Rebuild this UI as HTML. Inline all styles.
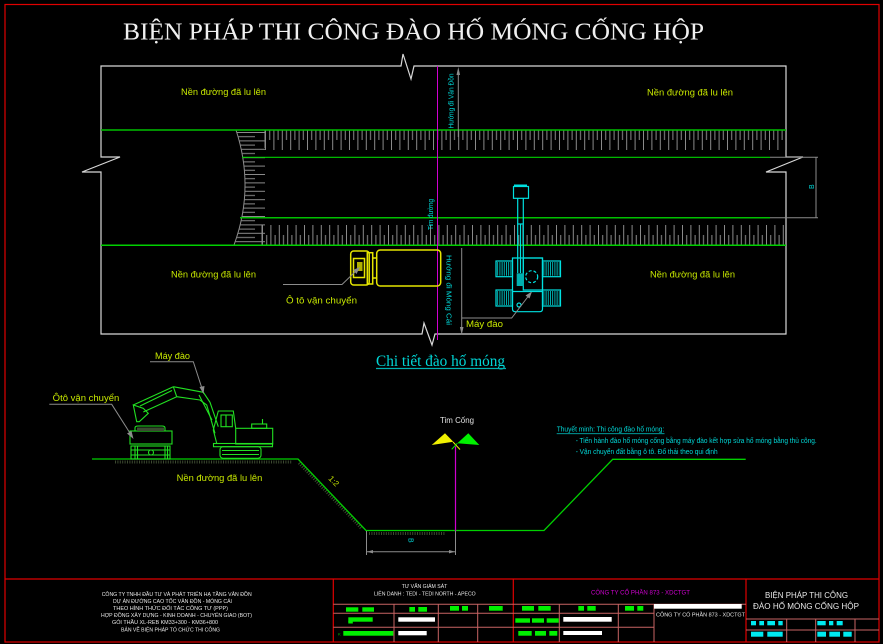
<!DOCTYPE html>
<html><head><meta charset="utf-8"><style>
html,body{margin:0;padding:0;background:#000;}
svg{display:block;}
text{font-family:"Liberation Sans",sans-serif;}
</style></head><body>
<svg width="883" height="644" viewBox="0 0 883 644" xmlns="http://www.w3.org/2000/svg">
<defs>
<pattern id="tt" x="265" y="130" width="8.4" height="20" patternUnits="userSpaceOnUse">
 <line x1="0.5" y1="0" x2="0.5" y2="20" stroke="#8c8c8c" stroke-width="1"/>
 <line x1="4.7" y1="0" x2="4.7" y2="10" stroke="#8c8c8c" stroke-width="1"/>
</pattern>
<pattern id="bt" x="262" y="225" width="8.4" height="20" patternUnits="userSpaceOnUse">
 <line x1="0.5" y1="0" x2="0.5" y2="20" stroke="#8c8c8c" stroke-width="1"/>
 <line x1="4.7" y1="10" x2="4.7" y2="20" stroke="#8c8c8c" stroke-width="1"/>
</pattern>
<pattern id="lh" x="225" y="132" width="60" height="8.4" patternUnits="userSpaceOnUse">
 <line x1="0" y1="0.5" x2="40" y2="0.5" stroke="#8c8c8c" stroke-width="1"/>
 <line x1="0" y1="4.7" x2="30" y2="4.7" stroke="#8c8c8c" stroke-width="1"/>
</pattern>
<pattern id="trk" x="0" y="0" width="2.2" height="10" patternUnits="userSpaceOnUse">
 <line x1="0.5" y1="0" x2="0.5" y2="10" stroke="#00d8d8" stroke-width="0.8"/>
</pattern>
<clipPath id="cc"><path d="M236,130 Q255,188 234,245 L300,245 L300,130 Z"/></clipPath>
</defs>

<!-- outer frame -->
<rect x="5" y="4.5" width="874" height="637.5" fill="none" stroke="#e00000" stroke-width="1.2"/>

<!-- title -->
<text x="123" y="39.5" font-family="Liberation Serif, serif" font-size="24" fill="#f0f0f0" textLength="581" lengthAdjust="spacingAndGlyphs" style="font-family:'Liberation Serif',serif">BIỆN PHÁP THI CÔNG ĐÀO HỐ MÓNG CỐNG HỘP</text>

<!-- plan view frame -->
<path d="M101,66 H401 L403,54 L411,79 L414,66 H786 V157 H803 L766,172 H786 V334 H435 L432,345 L424,323 L422,334 H101 V172 H82 L120,157 H101 Z" fill="none" stroke="#d8d8d8" stroke-width="1.2"/>

<!-- hatching -->
<rect x="265" y="130" width="521" height="20" fill="url(#tt)"/>
<rect x="262" y="225" width="524" height="20" fill="url(#bt)"/>
<rect x="225" y="132" width="45" height="112" fill="url(#lh)" clip-path="url(#cc)"/>
<path d="M236,130 Q255,188 234,245" fill="none" stroke="#8c8c8c" stroke-width="1"/>
<line x1="265" y1="130" x2="265" y2="148" stroke="#8c8c8c"/>
<line x1="262" y1="225" x2="262" y2="245" stroke="#8c8c8c"/>

<!-- green road lines -->
<line x1="101" y1="130" x2="786" y2="130" stroke="#00c000" stroke-width="1.5"/>
<line x1="242" y1="157.3" x2="770" y2="157.3" stroke="#00d000" stroke-width="1.2"/>
<line x1="240" y1="217.7" x2="770" y2="217.7" stroke="#00c000" stroke-width="1.5"/>
<line x1="101" y1="245.3" x2="786" y2="245.3" stroke="#00d000" stroke-width="1.5"/>

<!-- dimension B -->
<line x1="770" y1="157.3" x2="818" y2="157.3" stroke="#8c8c8c"/>
<line x1="770" y1="217.7" x2="818" y2="217.7" stroke="#8c8c8c"/>
<line x1="816" y1="157.3" x2="816" y2="218" stroke="#8c8c8c"/>
<text transform="translate(814,189) rotate(-90)" font-size="7" fill="#00d8d8">B</text>

<!-- tim duong magenta -->
<line x1="437.5" y1="66" x2="437.5" y2="340" stroke="#d000d0" stroke-width="1"/>
<text transform="translate(433,230) rotate(-90)" font-size="7" fill="#00d8d8" textLength="31" lengthAdjust="spacingAndGlyphs">Tim đường</text>

<!-- direction arrows -->
<line x1="458.3" y1="137" x2="458.3" y2="70" stroke="#8c8c8c"/>
<polygon points="458.3,67 456.5,75 460.1,75" fill="#8c8c8c"/>
<text transform="translate(453.5,128.5) rotate(-90)" font-size="7.5" fill="#00d8d8" textLength="55" lengthAdjust="spacingAndGlyphs">Hướng đi Vân Đồn</text>

<line x1="461.7" y1="248" x2="461.7" y2="331" stroke="#8c8c8c"/>
<polygon points="461.7,335 459.9,327 463.5,327" fill="#8c8c8c"/>
<text transform="translate(446.5,255) rotate(90)" font-size="7.5" fill="#00d8d8" textLength="70" lengthAdjust="spacingAndGlyphs">Hướng đi Móng Cái</text>

<!-- plan labels -->
<g font-size="9.5" fill="#c8e800">
<text x="181" y="95" textLength="85" lengthAdjust="spacingAndGlyphs">Nền đường đã lu lên</text>
<text x="647" y="95.5" textLength="86" lengthAdjust="spacingAndGlyphs">Nền đường đã lu lên</text>
<text x="171" y="277.5" textLength="85" lengthAdjust="spacingAndGlyphs">Nền đường đã lu lên</text>
<text x="650" y="277.5" textLength="85" lengthAdjust="spacingAndGlyphs">Nền đường đã lu lên</text>
<text x="286" y="303.5" textLength="71" lengthAdjust="spacingAndGlyphs">Ô tô vận chuyển</text>
<text x="466" y="327" textLength="37" lengthAdjust="spacingAndGlyphs">Máy đào</text>
</g>

<!-- truck plan view -->
<g fill="none" stroke="#e6e600" stroke-width="1.5">
<rect x="350.7" y="251" width="18.5" height="34" rx="3"/>
<rect x="353.5" y="258.5" width="11" height="19"/>
<rect x="367.3" y="252.7" width="5.4" height="31.3"/>
<rect x="376.7" y="250" width="64" height="36" rx="3.5"/>
<line x1="372.7" y1="258" x2="376.7" y2="258"/>
<line x1="372.7" y1="278" x2="376.7" y2="278"/>
</g>
<rect x="357" y="262" width="5.5" height="9" fill="#b0b000"/>
<polyline points="283,284.5 342,284.5 358,269" fill="none" stroke="#8c8c8c"/>
<polygon points="360,267 353,270 356.5,274" fill="#8c8c8c"/>

<!-- excavator plan view -->
<g fill="none" stroke="#00e0e0" stroke-width="1.2">
<rect x="513.5" y="186.5" width="15" height="11.8"/>
<line x1="517.7" y1="198.3" x2="517.7" y2="273"/>
<line x1="523.3" y1="198.3" x2="523.3" y2="273"/>
<line x1="520.5" y1="224" x2="520.5" y2="273"/>
<line x1="517.7" y1="224" x2="523.3" y2="224"/>
<path d="M512.5,258 H542.5 V309 Q542.5,311.7 539.5,311.7 H515.5 Q512.5,311.7 512.5,309 Z"/>
<rect x="523.3" y="258" width="19.2" height="32"/>
<line x1="512.5" y1="291.5" x2="542.5" y2="291.5"/>
<circle cx="531.7" cy="276.7" r="6" stroke-dasharray="3 2"/>
<circle cx="519" cy="305" r="2"/>
<rect x="496" y="261" width="16.5" height="15.7"/>
<rect x="542.5" y="261" width="18" height="15.7"/>
<rect x="496" y="290" width="16.5" height="16"/>
<rect x="542.5" y="290" width="18" height="16"/>
</g>
<rect x="514" y="184.5" width="13" height="2" fill="#00e0e0"/>
<rect x="516.7" y="273.3" width="7.3" height="12.7" fill="#00b0b0"/>
<rect x="497" y="262" width="14.5" height="13.7" fill="url(#trk)"/>
<rect x="543.5" y="262" width="16" height="13.7" fill="url(#trk)"/>
<rect x="497" y="291" width="14.5" height="14" fill="url(#trk)"/>
<rect x="543.5" y="291" width="16" height="14" fill="url(#trk)"/>
<polyline points="461.7,318 511.7,318 530,294" fill="none" stroke="#8c8c8c"/>
<polygon points="532,291.5 525.5,295.5 529.5,298.5" fill="#8c8c8c"/>

<!-- section title -->
<text x="376" y="366" font-size="16" fill="#00d8d8" textLength="129" lengthAdjust="spacingAndGlyphs" style="font-family:'Liberation Serif',serif">Chi tiết đào hố móng</text>
<line x1="376" y1="368.5" x2="506" y2="368.5" stroke="#00b0b0" stroke-width="1.2"/>

<!-- section ground -->
<g fill="none" stroke="#3c4a30" stroke-width="3" stroke-dasharray="1 1.4">
<line x1="115" y1="462" x2="292" y2="462"/>
<line x1="299" y1="463" x2="362" y2="529"/>
<line x1="369" y1="533.5" x2="445" y2="533.5"/>
</g>
<polyline points="92,459 298,459 366,530.5 544,530.5 612.7,459.3 745.7,459.3" fill="none" stroke="#00d000" stroke-width="1.3"/>
<text transform="translate(328,479) rotate(46)" font-size="8" fill="#c8e800">1:2</text>

<!-- dimension B bottom -->
<g stroke="#8c8c8c" fill="none">
<line x1="366.5" y1="531" x2="366.5" y2="555"/>
<line x1="455.5" y1="531" x2="455.5" y2="555"/>
<line x1="367" y1="551.7" x2="455" y2="551.7"/>
</g>
<polygon points="367,551.7 373,550 373,553.4" fill="#8c8c8c"/>
<polygon points="455,551.7 449,550 449,553.4" fill="#8c8c8c"/>
<text transform="translate(408.5,538) rotate(90)" font-size="7" fill="#00d8d8">B</text>

<!-- tim cong -->
<line x1="455.5" y1="446.5" x2="455.5" y2="531" stroke="#d000d0" stroke-width="1.2"/>
<text x="440" y="423" font-size="8" fill="#e0e0e0" textLength="34" lengthAdjust="spacingAndGlyphs">Tim Cống</text>
<polygon points="431.7,445 445,433.3 453.3,441.7" fill="#f0f000"/>
<polygon points="457.3,443.3 468.3,433.3 479.3,445" fill="#00f000"/>
<line x1="453" y1="442" x2="460" y2="449.5" stroke="#f0f000"/>
<line x1="457.3" y1="443.3" x2="451.7" y2="449.3" stroke="#00f000"/>

<!-- explanation -->
<g font-size="7" fill="#00d8d8">
<text x="556.7" y="431.5" textLength="107.6" lengthAdjust="spacingAndGlyphs">Thuyết minh: Thi công đào hố móng:</text>
<text x="575.7" y="443" textLength="241" lengthAdjust="spacingAndGlyphs">- Tiến hành đào hố móng cống bằng máy đào kết hợp sửa hố móng bằng thủ công.</text>
<text x="575.7" y="454" textLength="142" lengthAdjust="spacingAndGlyphs">- Vận chuyển đất bằng ô tô. Đổ thải theo qui định</text>
</g>
<line x1="556.7" y1="433.7" x2="664.5" y2="433.7" stroke="#00b0b0" stroke-width="0.8"/>

<!-- section truck -->
<g fill="none" stroke="#22e022" stroke-width="1.1">
<path d="M135,431 V428 Q135,426 138,426 H162 Q165,426 165,428 V431"/>
<rect x="130" y="431" width="42" height="13"/>
<rect x="131" y="446" width="39" height="13"/>
<line x1="131" y1="450" x2="170" y2="450"/>
<line x1="131" y1="455" x2="170" y2="455"/>
<line x1="135" y1="446" x2="135" y2="459"/>
<line x1="137.5" y1="446" x2="137.5" y2="459"/>
<line x1="165" y1="446" x2="165" y2="459"/>
<line x1="167.5" y1="446" x2="167.5" y2="459"/>
<circle cx="151" cy="452.5" r="2.5"/>
</g>
<rect x="137" y="427.5" width="27" height="3.5" fill="#3a4a30"/>

<!-- section excavator -->
<g fill="none" stroke="#22e022" stroke-width="1.1">
<path d="M216.7,443.3 L213.3,430 L218.3,411 H233.3 L235.7,428.3"/>
<rect x="221" y="415" width="11.3" height="11.7"/>
<line x1="226" y1="415" x2="226" y2="426.7"/>
<rect x="235.7" y="428.3" width="37" height="15.7"/>
<rect x="251.7" y="424" width="15" height="4.3"/>
<line x1="262.5" y1="419" x2="262.5" y2="424"/>
<rect x="213.5" y="443.5" width="59" height="3.2"/>
<rect x="220" y="446.7" width="41" height="11.6" rx="3"/>
<line x1="222" y1="450.5" x2="259" y2="450.5"/>
<line x1="222" y1="454.5" x2="259" y2="454.5"/>
<polyline points="173.3,386.7 203.3,392.3 210,402.3 218.3,426.7"/>
<polyline points="176.7,396.7 200,400 206.7,405 215,433.3"/>
<line x1="173.3" y1="386.7" x2="176.7" y2="396.7"/>
<line x1="173.3" y1="386.7" x2="133.3" y2="405"/>
<line x1="176.7" y1="396.7" x2="143.3" y2="412"/>
<line x1="172" y1="390.5" x2="140" y2="406"/>
<path d="M133.3,405 L136.7,421.7 L139.3,421.7 L148.3,413.3 L143.3,408.3 Z"/>
<line x1="199" y1="395" x2="212" y2="420"/>
</g>

<!-- section labels & leaders -->
<g font-size="9" fill="#c8e800">
<text x="155" y="359" textLength="35" lengthAdjust="spacingAndGlyphs">Máy đào</text>
<text x="52.7" y="401" textLength="66.6" lengthAdjust="spacingAndGlyphs">Ôtô vận chuyển</text>
<text x="176.7" y="481" textLength="85.6" lengthAdjust="spacingAndGlyphs">Nền đường đã lu lên</text>
</g>
<polyline points="150,361.7 193.3,361.7 202.5,390" fill="none" stroke="#8c8c8c"/>
<polygon points="203.5,394 199.5,387 204.5,386" fill="#8c8c8c"/>
<polyline points="49.3,404.3 111.7,404.3 131.5,435.5" fill="none" stroke="#8c8c8c"/>
<polygon points="133.5,439 127,433.5 131.5,431" fill="#8c8c8c"/>

<!-- title block -->
<g fill="none" stroke="#e00000" stroke-width="1.2">
<line x1="5" y1="579" x2="879" y2="579"/>
<line x1="333.3" y1="579" x2="333.3" y2="642"/>
<line x1="513.3" y1="579" x2="513.3" y2="642"/>
<line x1="746" y1="579" x2="746" y2="642"/>
</g>
<g fill="none" stroke="#c86464" stroke-width="1">
<line x1="333.3" y1="604.3" x2="746" y2="604.3"/>
<line x1="333.3" y1="613.3" x2="654" y2="613.3"/>
<line x1="333.3" y1="627.3" x2="654" y2="627.3"/>
<line x1="394" y1="604.3" x2="394" y2="642"/>
<line x1="438.3" y1="604.3" x2="438.3" y2="642"/>
<line x1="477.7" y1="604.3" x2="477.7" y2="642"/>
<line x1="559.3" y1="604.3" x2="559.3" y2="642"/>
<line x1="618.3" y1="604.3" x2="618.3" y2="642"/>
<line x1="654" y1="604.3" x2="654" y2="642"/>
<line x1="746" y1="619" x2="879" y2="619"/>
<line x1="746" y1="630" x2="879" y2="630"/>
<line x1="786.7" y1="619" x2="786.7" y2="642"/>
<line x1="815.7" y1="619" x2="815.7" y2="642"/>
<line x1="855" y1="619" x2="855" y2="642"/>
</g>

<g font-size="5.5" fill="#e8e8e8">
<text x="101.7" y="596" textLength="150" lengthAdjust="spacingAndGlyphs">CÔNG TY TNHH ĐẦU TƯ VÀ PHÁT TRIỂN HẠ TẦNG VÂN ĐỒN</text>
<text x="113" y="603" textLength="119" lengthAdjust="spacingAndGlyphs">DỰ ÁN ĐƯỜNG CAO TỐC VÂN ĐỒN - MÓNG CÁI</text>
<text x="113" y="610" textLength="115" lengthAdjust="spacingAndGlyphs">THEO HÌNH THỨC ĐỐI TÁC CÔNG TƯ (PPP)</text>
<text x="101" y="617" textLength="151" lengthAdjust="spacingAndGlyphs">HỢP ĐỒNG XÂY DỰNG - KINH DOANH - CHUYỂN GIAO (BOT)</text>
<text x="112" y="624" textLength="106" lengthAdjust="spacingAndGlyphs">GÓI THẦU XL-REB KM33+300 - KM36+800</text>
<text x="121" y="631.5" textLength="99" lengthAdjust="spacingAndGlyphs">BẢN VẼ BIỆN PHÁP TỔ CHỨC THI CÔNG</text>
<text x="401.7" y="588" textLength="45.6" lengthAdjust="spacingAndGlyphs">TƯ VẤN GIÁM SÁT</text>
<text x="374" y="595.5" textLength="101.7" lengthAdjust="spacingAndGlyphs">LIÊN DANH : TEDI - TEDI NORTH - APECO</text>
<text x="656" y="616.5" textLength="89" lengthAdjust="spacingAndGlyphs">CÔNG TY CỔ PHẦN 873 - XDCTGT</text>
</g>
<text x="591" y="594.5" font-size="6.5" fill="#d000d0" textLength="99" lengthAdjust="spacingAndGlyphs">CÔNG TY CỔ PHẦN 873 - XDCTGT</text>
<g font-size="8.5" fill="#e8e8e8">
<text x="765" y="598" textLength="83" lengthAdjust="spacingAndGlyphs">BIỆN PHÁP THI CÔNG</text>
<text x="753" y="609" textLength="106" lengthAdjust="spacingAndGlyphs">ĐÀO HỐ MÓNG CỐNG HỘP</text>
</g>

<!-- redacted bars -->
<g fill="#00f000">
<rect x="346" y="607.3" width="12.3" height="4.4"/>
<rect x="362.3" y="607.3" width="11.7" height="4.4"/>
<rect x="409.3" y="607" width="5.7" height="4.7"/>
<rect x="418.3" y="607" width="8.7" height="4.7"/>
<rect x="450" y="606" width="9" height="4.7"/>
<rect x="462" y="606" width="6" height="4.7"/>
<rect x="489" y="606" width="13.7" height="4.7"/>
<rect x="522" y="606" width="12" height="4.7"/>
<rect x="538.3" y="606" width="12.4" height="4.7"/>
<rect x="578.3" y="606" width="5.7" height="4.7"/>
<rect x="587.3" y="606" width="8.4" height="4.7"/>
<rect x="625" y="606" width="9" height="4.7"/>
<rect x="637.3" y="606" width="6" height="4.7"/>
<rect x="348.3" y="617.3" width="24.4" height="4.4"/>
<rect x="348.3" y="621" width="4.5" height="2.5"/>
<rect x="515.3" y="618.3" width="14.7" height="4.4"/>
<rect x="532" y="618.3" width="12" height="4.4"/>
<rect x="546.7" y="618.3" width="12" height="4.4"/>
<rect x="343.3" y="631" width="50" height="4.7"/>
<rect x="518.3" y="631" width="13.4" height="4.7"/>
<rect x="535" y="631" width="11" height="4.7"/>
<rect x="549.3" y="631" width="8" height="4.7"/>
</g>
<text x="338" y="635.5" font-size="4" fill="#00c000">K</text>
<g fill="#ffffff">
<rect x="654" y="604" width="87.7" height="4.7"/>
<rect x="398.3" y="617.3" width="36.7" height="4.4"/>
<rect x="398.3" y="631" width="28.4" height="4.3"/>
<rect x="563.3" y="617" width="48.4" height="4.7"/>
<rect x="563.3" y="631" width="38.7" height="4"/>
</g>
<g fill="#00e8f0">
<rect x="751" y="621" width="5" height="4.3"/>
<rect x="759.3" y="621" width="4.7" height="4.3"/>
<rect x="767.3" y="621" width="7.7" height="4.3"/>
<rect x="778.3" y="621" width="4.4" height="4.3"/>
<rect x="817.3" y="621" width="8.4" height="4.3"/>
<rect x="829" y="621" width="4.3" height="4.3"/>
<rect x="836.7" y="621" width="6" height="4.3"/>
<rect x="751" y="631.7" width="12.3" height="5"/>
<rect x="767.3" y="631.7" width="15.4" height="5"/>
<rect x="817.3" y="631.7" width="8.7" height="5"/>
<rect x="829.3" y="631.7" width="10.7" height="5"/>
<rect x="843.3" y="631.7" width="8.4" height="5"/>
</g>
</svg>
</body></html>
